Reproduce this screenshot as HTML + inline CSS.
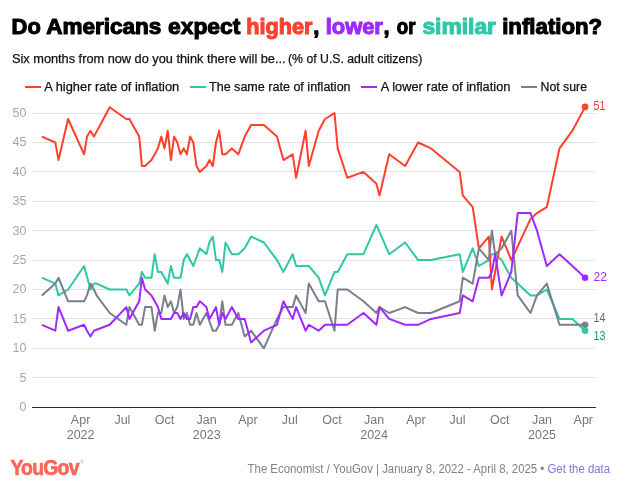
<!DOCTYPE html>
<html lang="en"><head><meta charset="utf-8"><title>Do Americans expect higher, lower, or similar inflation?</title>
<style>html,body{margin:0;padding:0;background:#fff;}body{width:635px;height:500px;overflow:hidden;}svg{display:block;}text{font-family:"Liberation Sans", sans-serif;}</style></head><body>
<svg width="635" height="500" viewBox="0 0 635 500">
<rect width="635" height="500" fill="#fff"/>
<text x="11.60" y="34.3" font-size="22" font-weight="bold" fill="#000" stroke="#000" stroke-width="1.1" stroke-linejoin="round" textLength="29.20" lengthAdjust="spacingAndGlyphs">Do</text>
<text x="46.30" y="34.3" font-size="22" font-weight="bold" fill="#000" stroke="#000" stroke-width="1.1" stroke-linejoin="round" textLength="115.10" lengthAdjust="spacingAndGlyphs">Americans</text>
<text x="168.00" y="34.3" font-size="22" font-weight="bold" fill="#000" stroke="#000" stroke-width="1.1" stroke-linejoin="round" textLength="72.30" lengthAdjust="spacingAndGlyphs">expect</text>
<text x="246.30" y="34.3" font-size="22" font-weight="bold" fill="#ff412c" stroke="#ff412c" stroke-width="1.1" stroke-linejoin="round" textLength="66.10" lengthAdjust="spacingAndGlyphs">higher</text>
<text x="313.20" y="34.3" font-size="22" font-weight="bold" fill="#000" stroke="#000" stroke-width="1.1" stroke-linejoin="round">,</text>
<text x="325.70" y="34.3" font-size="22" font-weight="bold" fill="#9f29ff" stroke="#9f29ff" stroke-width="1.1" stroke-linejoin="round" textLength="57.20" lengthAdjust="spacingAndGlyphs">lower</text>
<text x="383.40" y="34.3" font-size="22" font-weight="bold" fill="#000" stroke="#000" stroke-width="1.1" stroke-linejoin="round">,</text>
<text x="396.80" y="34.3" font-size="22" font-weight="bold" fill="#000" stroke="#000" stroke-width="1.1" stroke-linejoin="round" textLength="18.70" lengthAdjust="spacingAndGlyphs">or</text>
<text x="422.40" y="34.3" font-size="22" font-weight="bold" fill="#2fc8a5" stroke="#2fc8a5" stroke-width="1.1" stroke-linejoin="round" textLength="73.60" lengthAdjust="spacingAndGlyphs">similar</text>
<text x="502.20" y="34.3" font-size="22" font-weight="bold" fill="#000" stroke="#000" stroke-width="1.1" stroke-linejoin="round" textLength="100.00" lengthAdjust="spacingAndGlyphs">inflation?</text>
<text x="12" y="63" font-size="12.5" fill="#111" stroke="#111" stroke-width="0.25" textLength="273.6" lengthAdjust="spacingAndGlyphs">Six months from now do you think there will be...</text>
<text x="288" y="63" font-size="12.5" fill="#111" stroke="#111" stroke-width="0.25" textLength="134.3" lengthAdjust="spacingAndGlyphs">(% of U.S. adult citizens)</text>
<line x1="25.0" y1="87" x2="41.0" y2="87" stroke="#ff412c" stroke-width="2"/>
<text x="44.3" y="91" font-size="12.5" fill="#111" stroke="#111" stroke-width="0.25" textLength="134.9" lengthAdjust="spacingAndGlyphs">A higher rate of inflation</text>
<line x1="190.0" y1="87" x2="206.0" y2="87" stroke="#2fc8a5" stroke-width="2"/>
<text x="209.0" y="91" font-size="12.5" fill="#111" stroke="#111" stroke-width="0.25" textLength="141.6" lengthAdjust="spacingAndGlyphs">The same rate of inflation</text>
<line x1="361.0" y1="87" x2="377.0" y2="87" stroke="#9f29ff" stroke-width="2"/>
<text x="380.8" y="91" font-size="12.5" fill="#111" stroke="#111" stroke-width="0.25" textLength="129.6" lengthAdjust="spacingAndGlyphs">A lower rate of inflation</text>
<line x1="521.0" y1="87" x2="537.0" y2="87" stroke="#7a7f8e" stroke-width="2"/>
<text x="540.5" y="91" font-size="12.5" fill="#111" stroke="#111" stroke-width="0.25" textLength="46.5" lengthAdjust="spacingAndGlyphs">Not sure</text>
<line x1="32" y1="407.5" x2="596" y2="407.5" stroke="#2b2b2b" stroke-width="1"/>
<text x="26.4" y="411.1" font-size="12.5" fill="#a6a6a6" text-anchor="end">0</text>
<line x1="33" y1="377.5" x2="595" y2="377.5" stroke="#e2e2e2" stroke-width="1"/>
<text x="26.4" y="382.1" font-size="12.5" fill="#a6a6a6" text-anchor="end">5</text>
<line x1="33" y1="348.5" x2="595" y2="348.5" stroke="#e2e2e2" stroke-width="1"/>
<text x="26.4" y="352.1" font-size="12.5" fill="#a6a6a6" text-anchor="end">10</text>
<line x1="33" y1="318.5" x2="595" y2="318.5" stroke="#e2e2e2" stroke-width="1"/>
<text x="26.4" y="323.1" font-size="12.5" fill="#a6a6a6" text-anchor="end">15</text>
<line x1="33" y1="289.5" x2="595" y2="289.5" stroke="#e2e2e2" stroke-width="1"/>
<text x="26.4" y="293.1" font-size="12.5" fill="#a6a6a6" text-anchor="end">20</text>
<line x1="33" y1="260.5" x2="595" y2="260.5" stroke="#e2e2e2" stroke-width="1"/>
<text x="26.4" y="264.1" font-size="12.5" fill="#a6a6a6" text-anchor="end">25</text>
<line x1="33" y1="230.5" x2="595" y2="230.5" stroke="#e2e2e2" stroke-width="1"/>
<text x="26.4" y="235.1" font-size="12.5" fill="#a6a6a6" text-anchor="end">30</text>
<line x1="33" y1="201.5" x2="595" y2="201.5" stroke="#e2e2e2" stroke-width="1"/>
<text x="26.4" y="205.1" font-size="12.5" fill="#a6a6a6" text-anchor="end">35</text>
<line x1="33" y1="171.5" x2="595" y2="171.5" stroke="#e2e2e2" stroke-width="1"/>
<text x="26.4" y="176.1" font-size="12.5" fill="#a6a6a6" text-anchor="end">40</text>
<line x1="33" y1="142.5" x2="595" y2="142.5" stroke="#e2e2e2" stroke-width="1"/>
<text x="26.4" y="146.1" font-size="12.5" fill="#a6a6a6" text-anchor="end">45</text>
<line x1="33" y1="113.5" x2="595" y2="113.5" stroke="#e2e2e2" stroke-width="1"/>
<text x="26.4" y="117.1" font-size="12.5" fill="#a6a6a6" text-anchor="end">50</text>
<text x="80.6" y="424" font-size="12.5" fill="#777" text-anchor="middle">Apr</text>
<text x="80.6" y="438.9" font-size="12.5" fill="#777" text-anchor="middle">2022</text>
<text x="122.4" y="424" font-size="12.5" fill="#777" text-anchor="middle">Jul</text>
<text x="164.6" y="424" font-size="12.5" fill="#777" text-anchor="middle">Oct</text>
<text x="206.7" y="424" font-size="12.5" fill="#777" text-anchor="middle">Jan</text>
<text x="206.7" y="438.9" font-size="12.5" fill="#777" text-anchor="middle">2023</text>
<text x="248.0" y="424" font-size="12.5" fill="#777" text-anchor="middle">Apr</text>
<text x="289.7" y="424" font-size="12.5" fill="#777" text-anchor="middle">Jul</text>
<text x="331.9" y="424" font-size="12.5" fill="#777" text-anchor="middle">Oct</text>
<text x="374.1" y="424" font-size="12.5" fill="#777" text-anchor="middle">Jan</text>
<text x="374.1" y="438.9" font-size="12.5" fill="#777" text-anchor="middle">2024</text>
<text x="415.9" y="424" font-size="12.5" fill="#777" text-anchor="middle">Apr</text>
<text x="457.6" y="424" font-size="12.5" fill="#777" text-anchor="middle">Jul</text>
<text x="499.8" y="424" font-size="12.5" fill="#777" text-anchor="middle">Oct</text>
<text x="542.0" y="424" font-size="12.5" fill="#777" text-anchor="middle">Jan</text>
<text x="542.0" y="438.9" font-size="12.5" fill="#777" text-anchor="middle">2025</text>
<text x="583.3" y="424" font-size="12.5" fill="#777" text-anchor="middle">Apr</text>
<polyline fill="none" stroke="#2fc8a5" stroke-width="2" stroke-linejoin="round" stroke-linecap="butt" points="41.9,277.7 55.3,283.6 58.5,295.4 68.1,289.5 84.1,266.0 90.5,289.5 93.9,283.6 96.6,283.6 109.7,289.5 126.3,289.5 129.4,295.4 139.2,283.6 141.9,271.9 145.1,277.7 151.5,277.7 154.7,254.2 157.9,271.9 161.3,271.9 164.5,277.7 167.7,283.6 170.9,266.0 174.1,277.7 177.3,277.7 180.5,277.7 183.7,260.1 186.9,254.2 190.1,260.1 193.3,266.0 199.8,248.3 206.4,254.2 209.4,242.5 212.8,236.6 216.0,260.1 219.2,260.1 222.3,271.9 225.5,242.5 231.9,254.2 238.3,254.2 244.7,248.3 251.1,236.6 263.9,242.5 277.0,260.1 283.4,271.9 292.7,254.2 296.1,266.0 305.6,266.0 308.8,266.0 318.7,277.7 325.0,295.4 334.5,271.9 337.7,271.9 347.3,254.2 363.5,254.2 376.4,224.8 389.2,254.2 405.1,242.5 418.1,260.1 431.0,260.1 459.7,254.2 462.8,271.9 472.7,248.3 478.9,266.0 488.8,260.1 491.9,254.2 495.1,254.2 501.6,260.1 511.3,277.7 517.7,283.6 530.5,295.4 537.0,295.4 546.8,289.5 559.5,318.9 572.4,318.9 585.1,330.7"/>
<polyline fill="none" stroke="#ff412c" stroke-width="2" stroke-linejoin="round" stroke-linecap="butt" points="41.9,136.6 55.3,142.5 58.5,160.1 68.1,119.0 84.1,154.3 87.0,136.6 90.5,130.7 93.9,136.6 109.7,107.2 126.3,119.0 129.4,119.0 139.2,136.6 141.9,166.0 145.1,166.0 151.5,160.1 154.7,154.3 157.9,148.4 161.3,136.6 164.5,148.4 167.7,130.7 170.9,160.1 174.1,136.6 177.3,142.5 180.5,154.3 183.7,148.4 186.9,154.3 190.1,136.6 193.3,142.5 196.5,166.0 199.8,171.9 206.4,166.0 209.4,160.1 212.8,166.0 216.0,142.5 219.2,130.7 222.3,154.3 225.5,154.3 231.9,148.4 238.3,154.3 244.7,136.6 251.1,124.9 263.9,124.9 277.0,136.6 283.4,160.1 292.7,154.3 296.1,177.8 305.6,130.7 308.8,166.0 318.7,130.7 325.0,119.0 334.5,113.1 337.7,148.4 347.3,177.8 363.5,171.9 376.4,183.7 379.5,195.4 389.2,154.3 405.1,166.0 418.1,142.5 431.0,148.4 459.7,171.9 462.8,195.4 472.7,207.2 478.9,248.3 488.8,236.6 491.9,289.5 501.6,236.6 511.3,260.1 530.5,218.9 537.0,213.1 546.8,207.2 559.5,148.4 572.4,130.7 585.1,106.9"/>
<polyline fill="none" stroke="#7a7f8e" stroke-width="2" stroke-linejoin="round" stroke-linecap="butt" points="41.9,295.4 55.3,283.6 58.5,277.7 68.1,301.3 84.1,301.3 87.0,295.4 90.5,283.6 93.9,289.5 96.6,295.4 109.7,313.0 126.3,324.8 129.4,307.1 139.2,324.8 141.9,324.8 145.1,307.1 151.5,307.1 154.7,330.7 157.9,313.0 161.3,313.0 164.5,295.4 167.7,307.1 170.9,301.3 174.1,313.0 177.3,307.1 180.5,289.5 183.7,318.9 186.9,313.0 190.1,324.8 193.3,324.8 196.5,313.0 199.8,324.8 206.4,313.0 212.8,330.7 216.0,330.7 219.2,324.8 222.3,301.3 225.5,324.8 231.9,324.8 238.3,313.0 244.7,336.5 251.1,330.7 263.9,348.3 277.0,318.9 283.4,307.1 292.7,307.1 296.1,295.4 305.6,313.0 308.8,283.6 318.7,301.3 325.0,301.3 334.5,330.7 337.7,289.5 347.3,289.5 363.5,301.3 376.4,313.0 379.5,307.1 389.2,313.0 405.1,307.1 418.1,313.0 431.0,313.0 459.7,301.3 462.8,277.7 472.7,283.6 478.9,248.3 488.8,260.1 491.9,230.7 495.1,254.2 501.6,248.3 511.3,230.7 517.7,295.4 530.5,313.0 537.0,295.4 546.8,283.6 559.5,324.8 572.4,324.8 585.1,324.8"/>
<polyline fill="none" stroke="#9f29ff" stroke-width="2" stroke-linejoin="round" stroke-linecap="butt" points="41.9,324.8 55.3,330.7 58.5,307.1 68.1,330.7 84.1,324.8 87.0,330.7 90.5,336.5 93.9,330.7 109.7,324.8 126.3,307.1 129.4,318.9 139.2,301.3 141.9,277.7 145.1,289.5 151.5,295.4 154.7,301.3 157.9,307.1 161.3,318.9 164.5,318.9 167.7,318.9 170.9,318.9 174.1,313.0 177.3,313.0 180.5,318.9 183.7,313.0 186.9,318.9 190.1,318.9 193.3,307.1 196.5,307.1 199.8,301.3 206.4,307.1 209.4,318.9 212.8,313.0 216.0,307.1 219.2,324.8 222.3,313.0 225.5,318.9 231.9,307.1 238.3,318.9 244.7,318.9 251.1,342.4 263.9,330.7 277.0,324.8 283.4,301.3 292.7,318.9 296.1,307.1 305.6,330.7 308.8,324.8 318.7,330.7 325.0,324.8 334.5,324.8 337.7,324.8 347.3,324.8 363.5,313.0 376.4,324.8 379.5,307.1 389.2,318.9 405.1,324.8 418.1,324.8 431.0,318.9 459.7,313.0 462.8,295.4 472.7,301.3 478.9,277.7 488.8,277.7 491.9,271.9 495.1,254.2 501.6,295.4 511.3,271.9 517.7,213.1 530.5,213.1 537.0,230.7 546.8,266.0 559.5,254.2 572.4,266.0 585.1,277.7"/>
<circle cx="585.1" cy="330.7" r="3.3" fill="#2fc8a5"/>
<circle cx="585.1" cy="324.8" r="3.3" fill="#7a7f8e"/>
<circle cx="585.1" cy="277.7" r="3.3" fill="#9f29ff"/>
<circle cx="585.1" cy="106.9" r="3.3" fill="#ff412c"/>
<text x="593.6" y="110.1" font-size="12.6" fill="#f0392b" textLength="11.8" lengthAdjust="spacingAndGlyphs">51</text>
<text x="593.6" y="280.9" font-size="12.6" fill="#9f29ff" textLength="13.4" lengthAdjust="spacingAndGlyphs">22</text>
<text x="593.6" y="322.0" font-size="12.6" fill="#666a75" textLength="12.0" lengthAdjust="spacingAndGlyphs">14</text>
<text x="593.6" y="340.0" font-size="12.6" fill="#12957a" textLength="12.0" lengthAdjust="spacingAndGlyphs">13</text>
<text transform="translate(10.4,474.5) scale(0.905,1)" font-size="21.5" font-weight="bold" fill="#fb6557" stroke="#fb6557" stroke-width="0.6" letter-spacing="-0.9">YouGov</text>
<text x="80.3" y="464" font-size="4.5" fill="#fb8377">®</text>
<text x="247.6" y="473.1" font-size="12" fill="#828282" textLength="362.5" lengthAdjust="spacingAndGlyphs">The Economist / YouGov | January 8, 2022 - April 8, 2025 • <tspan fill="#8672dc">Get the data</tspan></text>
</svg></body></html>
